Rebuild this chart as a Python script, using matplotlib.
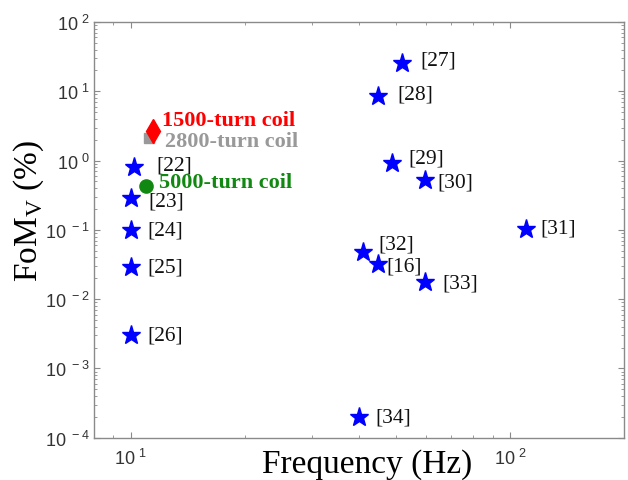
import matplotlib
matplotlib.use("Agg")
import math
import matplotlib.pyplot as plt
from matplotlib.ticker import LogLocator, FixedLocator, NullFormatter, FuncFormatter

# ---- data ----
ref_labels = ["[22]", "[23]", "[24]", "[25]", "[26]", "[27]", "[28]", "[29]",
              "[30]", "[31]", "[32]", "[16]", "[33]", "[34]"]
ref_freq = [10.2, 10.0, 10.0, 10.0, 10.0, 52.0, 45.0, 48.9,
            59.8, 110.0, 40.9, 45.0, 59.9, 39.9]
ref_fom = [0.80, 0.29, 0.10, 0.0294, 0.0030, 25.6, 8.6, 0.91,
           0.53, 0.103, 0.048, 0.032, 0.0179, 0.0002]
# label offsets in points (dx, dy)
ref_offsets = [(16, 2), (13, -2), (12, 0), (12, 0), (12, 0), (13, 2), (14, 1), (12, 4),
               (9, -2), (11, 1), (11, 6), (6, -1), (12, -1), (12, 0)]

coil_labels = ["1500-turn coil", "2800-turn coil", "5000-turn coil"]
coil_freq = [11.43, 11.2, 10.98]
coil_fom = [2.65, 2.1, 0.426]
coil_colors = ["#ff0000", "#999999", "#118811"]
coil_markers = ["d", "s", "o"]
coil_ms = [12, 7, 9.5]
coil_z = [5, 4, 4]
coil_offsets = [(7, 8), (11, -2), (9, 3)]

x_major = [10, 100]
y_major = [1e-4, 1e-3, 1e-2, 1e-1, 1e0, 1e1, 1e2]
xlim = (8.0, 200.0)
ylim = (1e-4, 1e2)

fig = plt.figure(figsize=(6.28, 4.81), dpi=100)
ax = fig.add_axes([0.1497, 0.0879, 0.9936 - 0.1497, 0.9522 - 0.0879])
ax.set_xscale("log")
ax.set_yscale("log")
ax.set_xlim(*xlim)
ax.set_ylim(*ylim)

serif = ["Liberation Serif", "DejaVu Serif"]
sans = ["Liberation Sans", "DejaVu Sans"]

ax.plot(ref_freq, ref_fom, linestyle="none", marker="*", ms=14,
        color="#0000ff", markeredgecolor="#0000ff", zorder=3)
for lab, f, v, off in zip(ref_labels, ref_freq, ref_fom, ref_offsets):
    ax.annotate(lab, (f, v), xytext=off, textcoords="offset points",
                ha="left", va="center", fontsize=15.5, family=serif, color="#111111")

for lab, f, v, c, m, ms, z, off in zip(coil_labels, coil_freq, coil_fom, coil_colors,
                                       coil_markers, coil_ms, coil_z, coil_offsets):
    ax.plot([f], [v], linestyle="none", marker=m, ms=ms, color=c,
            markeredgecolor=c, zorder=z)
    ax.annotate(lab, (f, v), xytext=off, textcoords="offset points",
                ha="left", va="center", fontsize=16, family=serif,
                fontweight="bold", color=c, zorder=6)

gray = "#8a8a8a"
for sp in ax.spines.values():
    sp.set_color(gray)
    sp.set_linewidth(1.0)

ax.xaxis.set_major_locator(FixedLocator(x_major))
ax.xaxis.set_minor_locator(LogLocator(base=10, subs=range(2, 10), numticks=20))
ax.yaxis.set_major_locator(FixedLocator(y_major))
ax.yaxis.set_minor_locator(LogLocator(base=10, subs=range(2, 10), numticks=20))
ax.xaxis.set_minor_formatter(NullFormatter())
ax.yaxis.set_minor_formatter(NullFormatter())


def fmt(v, pos):
    e = int(round(math.log10(v)))
    es = str(e).replace("-", "\u2212")
    return r"$\mathregular{10^{\ %s}}$" % es


ax.xaxis.set_major_formatter(FuncFormatter(fmt))
ax.yaxis.set_major_formatter(FuncFormatter(fmt))

ax.tick_params(which="both", direction="in", top=True, right=True, color=gray,
               labelcolor="#333333", labelsize=13)
ax.tick_params(which="major", length=4, width=0.8, pad=3)
ax.tick_params(which="minor", length=2.5, width=0.6)
ax.tick_params(axis="x", which="major", pad=7)
for t in ax.get_xticklabels() + ax.get_yticklabels():
    t.set_family(sans)

fig.text(367 / 628, 1 - 465 / 481, "Frequency (Hz)", family=serif, fontsize=24,
         ha="center", va="center")
fig.text(28.5 / 628, 1 - 211 / 481, r"FoM$_{\mathregular{V}}$ (%)", family=serif,
         fontsize=24, ha="center", va="center", rotation=90)

fig.savefig("out.png", dpi=100)
